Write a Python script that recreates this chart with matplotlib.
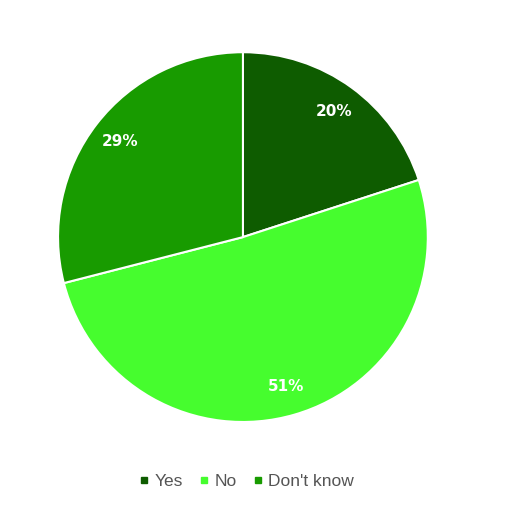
import matplotlib.pyplot as plt
from matplotlib.lines import Line2D

labels = ['Yes', 'No', "Don't know"]
values = [20, 51, 29]
colors = ['#0e5c00', '#46fd2e', '#189b00']

fig = plt.figure(figsize=(5.06, 5.29), dpi=100)
ax = fig.add_axes([0.1146, 0.2023, 0.731, 0.699])

wedges, texts, autotexts = ax.pie(
    values, colors=colors, startangle=90, counterclock=False,
    autopct='%1.0f%%', pctdistance=0.84,
    wedgeprops=dict(edgecolor='white', linewidth=1.5))
for t in autotexts:
    t.set_color('white')
    t.set_fontsize(11)
    t.set_fontweight('bold')
    t.set_family('DejaVu Sans')
ax.set_aspect('equal')
ax.set_xlim(-1, 1)
ax.set_ylim(-1, 1)

handles = [Line2D([], [], marker='s', linestyle='', color=c, markersize=5)
           for c in colors]
fig.legend(handles, labels, loc='center', bbox_to_anchor=(0.487, 0.09),
           ncol=3, frameon=False, handlelength=0.6, handletextpad=0.3,
           columnspacing=0.9,
           prop={'family': 'Liberation Sans', 'size': 12.5},
           labelcolor='#555555')

fig.savefig('out.png', dpi=100)
